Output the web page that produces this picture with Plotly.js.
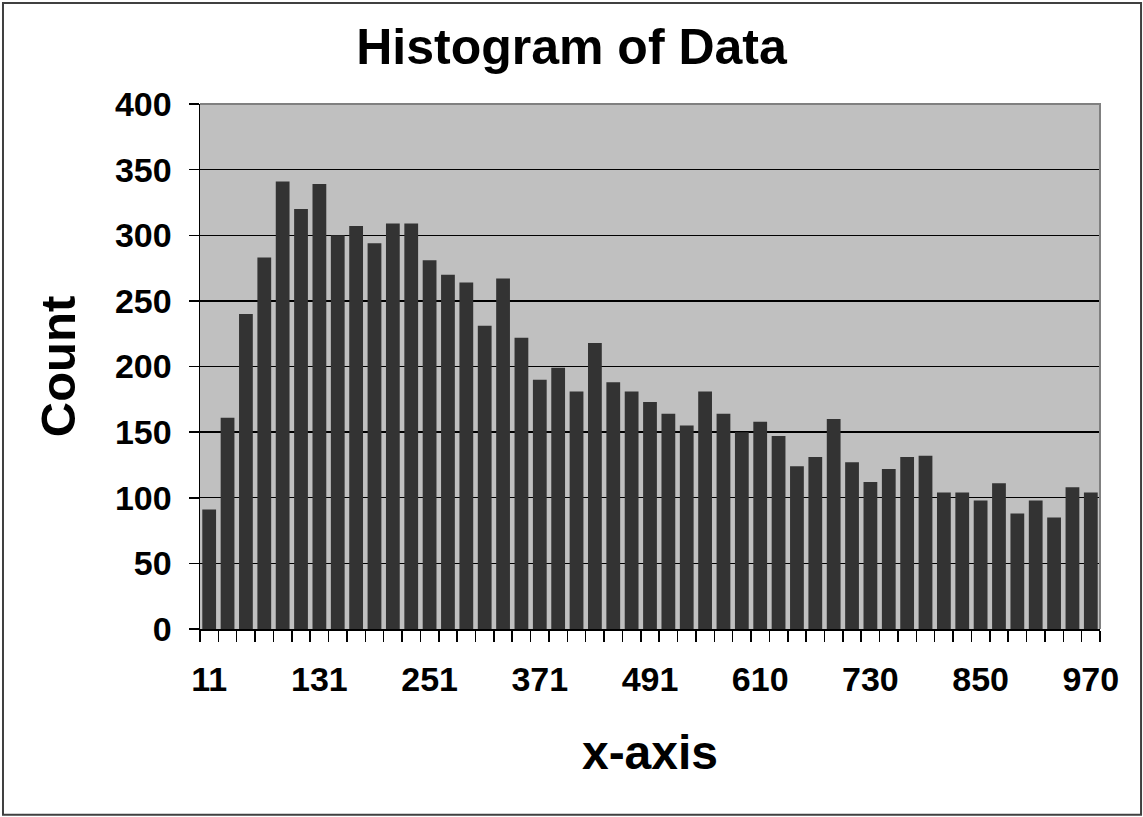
<!DOCTYPE html>
<html>
<head>
<meta charset="utf-8">
<script src="https://cdn.plot.ly/plotly-3.0.1.min.js"></script>
<style>
  html, body { margin: 0; padding: 0; background: #ffffff; }
  #chart { width: 1143px; height: 817px; }
</style>
</head>
<body>
<div id="chart"></div>
<script>
// Bin labels (bin start values) and counts
const binLabels = ["11","31","51","71","91","111","131","151","171","191",
  "211","231","251","271","291","311","331","351","371","391",
  "411","431","451","471","491","510","530","550","570","590",
  "610","630","650","670","690","710","730","750","770","790",
  "810","830","850","870","890","910","930","950","970"];
const counts = [91,161,240,283,341,320,339,300,307,294,
  309,309,281,270,264,231,267,222,190,199,
  181,218,188,181,173,164,155,181,164,150,
  158,147,124,131,160,127,112,122,131,132,
  104,104,98,111,88,98,85,108,104];
const labelEvery = 6;
const yTicks = [0,50,100,150,200,250,300,350,400];

const idx = binLabels.map((_, i) => i);
const shownIdx = idx.filter(i => i % labelEvery === 0);
const shownText = shownIdx.map(i => binLabels[i]);

const FONT = 'Liberation Sans, Arial, sans-serif';

const trace = {
  type: 'bar',
  x: idx,
  y: counts,
  marker: { color: '#333333', line: { width: 0 } },
  hovertext: binLabels,
  hoverinfo: 'text+y'
};

const layout = {
  width: 1143,
  height: 817,
  margin: { l: 200, r: 43, t: 104, b: 188, pad: 0 },
  paper_bgcolor: '#ffffff',
  plot_bgcolor: '#c0c0c0',
  showlegend: false,
  bargap: 0.25,
  font: { family: FONT, color: '#000000', weight: 'bold' },
  title: {
    text: 'Histogram of Data',
    font: { family: FONT, size: 50, color: '#000000', weight: 'bold' },
    x: 0.5, xanchor: 'center', xref: 'container',
    y: 0.943, yanchor: 'middle', yref: 'container'
  },
  xaxis: {
    range: [-0.5, binLabels.length - 0.5],
    tickmode: 'array',
    tickvals: shownIdx,
    ticktext: shownText,
    ticks: '',
    tickfont: { family: FONT, size: 34, color: '#000000', weight: 'bold' },
    showgrid: false,
    zeroline: false,
    showline: true,
    linecolor: '#000000',
    linewidth: 1.5,
    minor: { tickmode: 'linear', tick0: -0.5, dtick: 1, ticks: 'outside', ticklen: 11, tickwidth: 1.5, tickcolor: '#000000', showgrid: false },
    ticklabelstandoff: 20,
    title: {
      text: 'x-axis',
      font: { family: FONT, size: 48, color: '#000000', weight: 'bold' },
      standoff: 38
    },
    fixedrange: true
  },
  yaxis: {
    range: [0, 400],
    tickmode: 'array',
    tickvals: yTicks,
    ticks: 'outside',
    ticklen: 10,
    tickwidth: 1.5,
    tickcolor: '#000000',
    tickfont: { family: FONT, size: 34, color: '#000000', weight: 'bold' },
    showgrid: true,
    gridcolor: '#000000',
    gridwidth: 1.3,
    zeroline: false,
    showline: true,
    linecolor: '#000000',
    linewidth: 1.5,
    ticklabelstandoff: 10,
    title: {
      text: 'Count',
      font: { family: FONT, size: 49, color: '#000000', weight: 'bold' },
      standoff: 24
    },
    fixedrange: true
  },
  shapes: [
    {
      type: 'path', xref: 'paper', yref: 'paper', layer: 'above',
      path: 'M 0 1 L 1 1 L 1 0',
      line: { color: '#808080', width: 2 }
    },
    {
      type: 'rect', xref: 'paper', yref: 'paper', layer: 'above',
      x0: -0.2189, x1: 1.0456, y0: -0.354, y1: 1.1924,
      line: { color: '#404040', width: 2 }
    }
  ]
};

Plotly.newPlot('chart', [trace], layout, { displayModeBar: false, staticPlot: true });
</script>
</body>
</html>
